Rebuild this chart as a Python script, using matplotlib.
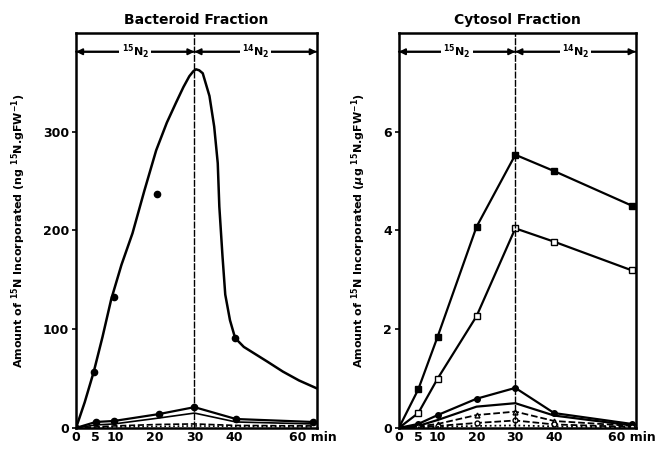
import matplotlib
matplotlib.use("Agg")
import matplotlib.pyplot as plt

plt.rcParams['font.family'] = ['DejaVu Sans']
plt.rcParams['font.weight'] = 'bold'

# ---- data ----
time_ticks = [0, 5, 10, 20, 30, 40, 60]
time_labels = ['0', '5', '10', '20', '30', '40', '60 min']

# Bacteroid fraction (ng 15N / gFW)
bact_pts_t = [4.5, 9.6, 20.5, 40.3]
bact_pts_v = [57, 133, 237, 91]
bact_curve_t = [0, 2.2, 4.5, 6.7, 8.9, 11.5, 14.3, 17.3, 20.3, 23, 25.3, 27.2, 28.7, 29.7, 30.4,
                31.2, 32.1, 33.8, 35.0, 35.9, 36.3, 37.1, 37.8, 39.0, 40.3, 42.5, 44.9, 48.5, 52.4, 56.5, 61]
bact_curve_v = [0, 26, 57, 92, 130, 165, 197, 240, 281, 309, 329, 345, 356, 361, 363,
                362, 359, 336, 305, 268, 224, 174, 135, 109, 91, 82, 76, 67, 57, 48, 40]
bact_circ_t = [0, 5, 9.6, 21, 30, 40.5, 60]
bact_circ_v = [0, 6, 7, 14, 21, 9, 6]
bact_solid_t = [0, 5, 9.6, 21, 30, 40.5, 60]
bact_solid_v = [0, 3, 4, 10, 15, 6, 4]
bact_dash_t = [0, 5, 9.6, 21, 30, 40.5, 60]
bact_dash_v = [0, 1, 2, 3.5, 4, 2.5, 2]
bact_dot_t = [0, 5, 9.6, 21, 30, 40.5, 60]
bact_dot_v = [0, 0.5, 1, 1.5, 2, 1.5, 1]

# Cytosol fraction (ug 15N / gFW)
cyt_t = [0, 5, 10, 20, 30, 40, 60]
cyt_fsq = [0, 0.78, 1.85, 4.07, 5.53, 5.2, 4.5]
cyt_osq = [0, 0.3, 1.0, 2.26, 4.04, 3.77, 3.19]
cyt_fci = [0, 0.08, 0.26, 0.59, 0.81, 0.3, 0.08]
cyt_sol = [0, 0.04, 0.16, 0.43, 0.5, 0.25, 0.05]
cyt_tri = [0, 0.03, 0.08, 0.26, 0.33, 0.14, 0.04]
cyt_oci = [0, 0.02, 0.04, 0.1, 0.15, 0.07, 0.02]
cyt_dot = [0, 0.01, 0.02, 0.04, 0.05, 0.03, 0.01]

fig = plt.figure(figsize=(6.67, 4.49), dpi=100)
ax1 = fig.add_axes([0.114, 0.047, 0.361, 0.88])
ax2 = fig.add_axes([0.598, 0.047, 0.355, 0.88])

lw = 1.6

# left panel
ax1.plot(bact_curve_t, bact_curve_v, color='black', lw=1.8)
ax1.plot(bact_pts_t, bact_pts_v, 'o', color='black', ms=4.5)
ax1.plot(bact_circ_t, bact_circ_v, '-o', color='black', lw=lw, ms=4.5)
ax1.plot(bact_solid_t, bact_solid_v, '-', color='black', lw=1.2)
ax1.plot(bact_dash_t, bact_dash_v, '--', color='black', lw=1.2)
ax1.plot(bact_dot_t, bact_dot_v, ':', color='black', lw=1.2)

# right panel
ax2.plot(cyt_t, cyt_fsq, '-s', color='black', lw=lw, ms=4)
ax2.plot(cyt_t, cyt_osq, '-s', color='black', mfc='white', lw=lw, ms=4)
ax2.plot(cyt_t, cyt_fci, '-o', color='black', lw=lw, ms=4)
ax2.plot(cyt_t, cyt_sol, '-', color='black', lw=lw)
ax2.plot(cyt_t, cyt_tri, '--^', color='black', mfc='white', lw=1.3, ms=3.5)
ax2.plot(cyt_t, cyt_oci, '--o', color='black', mfc='white', lw=1.3, ms=3.5)
ax2.plot(cyt_t, cyt_dot, ':', color='black', lw=1.3)

panels = [
    (ax1, 'Bacteroid Fraction', 400, [0, 100, 200, 300],
     'Amount of $^{15}$N Incorporated (ng $^{15}$N.gFW$^{-1}$)'),
    (ax2, 'Cytosol Fraction', 8.0, [0, 2, 4, 6],
     'Amount of $^{15}$N Incorporated ($\\mu$g $^{15}$N.gFW$^{-1}$)'),
]
for ax, title, ymax, yt, ylab in panels:
    ax.set_xlim(0, 61)
    ax.set_ylim(0, ymax)
    ax.set_xticks(time_ticks)
    ax.set_xticklabels(time_labels, fontsize=9, fontweight='bold')
    ax.set_yticks(yt)
    ax.set_yticklabels([str(v) for v in yt], fontsize=9, fontweight='bold')
    ax.tick_params(axis='x', length=0, pad=2)
    ax.tick_params(axis='y', length=3, width=1.2, direction='out', pad=2)
    for s in ax.spines.values():
        s.set_linewidth(1.8)
    ax.set_title(title, fontsize=10, fontweight='heavy', pad=6)
    ax.set_ylabel(ylab, fontsize=8, fontweight='bold', labelpad=11)
    ax.axvline(30, color='black', lw=1.0, ls=(0, (5, 1)))
    # 15N2 / 14N2 arrows
    ya = 0.952
    for a, b in [(0, 30), (30, 0), (30, 61), (61, 30)]:
        ax.annotate('', xy=(a, ya), xytext=(b, ya), xycoords=('data', 'axes fraction'),
                    arrowprops=dict(arrowstyle='-|>', color='black', lw=1.4,
                                    mutation_scale=9, shrinkA=0, shrinkB=0))
    ax.text(15, ya, '$^{15}$N$_2$', transform=ax.get_xaxis_transform(), ha='center', va='center',
            fontsize=8, bbox=dict(facecolor='white', edgecolor='none', pad=1.5))
    ax.text(45.5, ya, '$^{14}$N$_2$', transform=ax.get_xaxis_transform(), ha='center', va='center',
            fontsize=8, bbox=dict(facecolor='white', edgecolor='none', pad=1.5))

fig.savefig('out.png', dpi=100)
